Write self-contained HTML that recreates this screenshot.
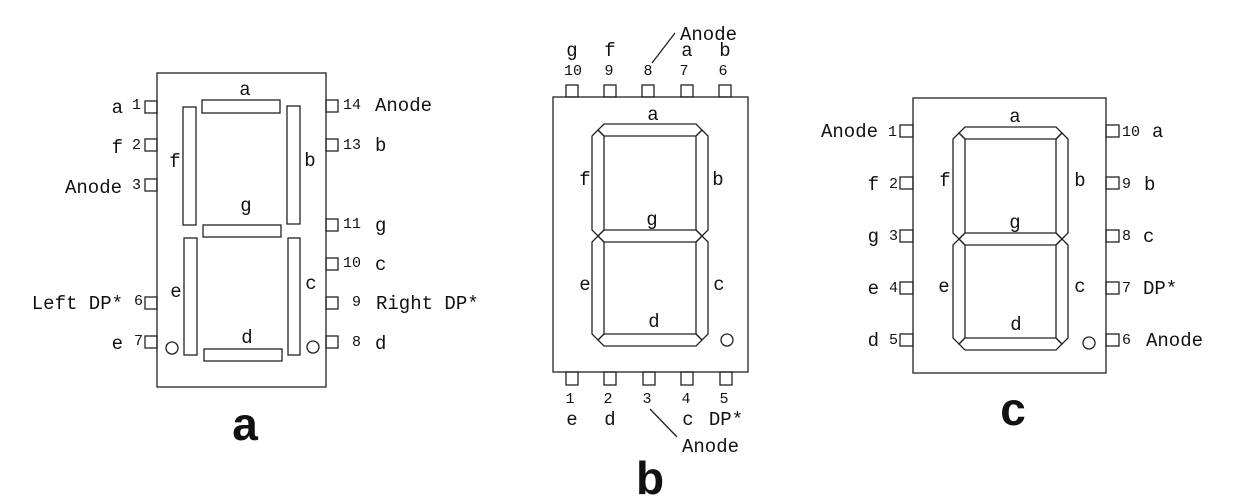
<!DOCTYPE html>
<html><head><meta charset="utf-8"><style>
html,body{margin:0;padding:0;background:#fff;}
svg{display:block;}
text{font-family:"Liberation Mono",monospace;fill:#111;}
.l{font-size:19px;}
.n{font-size:15px;}
.big{font-family:"Liberation Sans",sans-serif;font-weight:bold;font-size:46px;}
</style></head><body>
<svg width="1246" height="499" viewBox="0 0 1246 499" xmlns="http://www.w3.org/2000/svg">
<g fill="none" stroke="#222" stroke-width="1.3">
<!-- Diagram a -->
<rect x="157" y="73" width="169" height="314"/>
<rect x="145" y="101" width="12" height="12"/>
<rect x="145" y="139" width="12" height="12"/>
<rect x="145" y="179" width="12" height="12"/>
<rect x="145" y="297" width="12" height="12"/>
<rect x="145" y="336" width="12" height="12"/>
<rect x="326" y="100" width="12" height="12"/>
<rect x="326" y="139" width="12" height="12"/>
<rect x="326" y="219" width="12" height="12"/>
<rect x="326" y="258" width="12" height="12"/>
<rect x="326" y="297" width="12" height="12"/>
<rect x="326" y="336" width="12" height="12"/>
<rect x="202" y="100" width="78" height="13"/>
<rect x="183" y="107" width="13" height="118"/>
<rect x="287" y="106" width="13" height="118"/>
<rect x="203" y="225" width="78" height="12"/>
<rect x="184" y="238" width="13" height="117"/>
<rect x="288" y="238" width="12" height="117"/>
<rect x="204" y="349" width="78" height="12"/>
<circle cx="172" cy="348" r="6"/>
<circle cx="313" cy="347" r="6"/>
<!-- Diagram b -->
<rect x="553" y="97" width="195" height="275"/>
<rect x="566" y="85" width="12" height="12"/>
<rect x="604" y="85" width="12" height="12"/>
<rect x="642" y="85" width="12" height="12"/>
<rect x="681" y="85" width="12" height="12"/>
<rect x="719" y="85" width="12" height="12"/>
<rect x="566" y="372" width="12" height="13"/>
<rect x="604" y="372" width="12" height="13"/>
<rect x="643" y="372" width="12" height="13"/>
<rect x="681" y="372" width="12" height="13"/>
<rect x="720" y="372" width="12" height="13"/>
<polygon points="604,124 696,124 702,130 696,136 604,136 598,130"/>
<polygon points="598,236 604,230 696,230 702,236 696,242 604,242"/>
<polygon points="604,346 696,346 702,340 696,334 604,334 598,340"/>
<polygon points="598,130 604,136 604,230 598,236 592,230 592,136"/>
<polygon points="598,236 604,242 604,334 598,340 592,334 592,242"/>
<polygon points="702,130 708,136 708,230 702,236 696,230 696,136"/>
<polygon points="702,236 708,242 708,334 702,340 696,334 696,242"/>
<circle cx="727" cy="340" r="6"/>
<line x1="652" y1="63" x2="675" y2="33"/>
<line x1="650" y1="409" x2="677" y2="437"/>
<!-- Diagram c -->
<rect x="913" y="98" width="193" height="275"/>
<rect x="900" y="125" width="13" height="12"/>
<rect x="900" y="177" width="13" height="12"/>
<rect x="900" y="230" width="13" height="12"/>
<rect x="900" y="282" width="13" height="12"/>
<rect x="900" y="334" width="13" height="12"/>
<rect x="1106" y="125" width="13" height="12"/>
<rect x="1106" y="177" width="13" height="12"/>
<rect x="1106" y="230" width="13" height="12"/>
<rect x="1106" y="282" width="13" height="12"/>
<rect x="1106" y="334" width="13" height="12"/>
<polygon points="965,127 1056,127 1062,133 1056,139 965,139 959,133"/>
<polygon points="959,239 965,233 1056,233 1062,239 1056,245 965,245"/>
<polygon points="965,350 1056,350 1062,344 1056,338 965,338 959,344"/>
<polygon points="959,133 965,139 965,233 959,239 953,233 953,139"/>
<polygon points="959,239 965,245 965,338 959,344 953,338 953,245"/>
<polygon points="1062,133 1068,139 1068,233 1062,239 1056,233 1056,139"/>
<polygon points="1062,239 1068,245 1068,338 1062,344 1056,338 1056,245"/>
<circle cx="1089" cy="343" r="6"/>
</g>

<!-- Diagram a text -->
<g class="l" text-anchor="end">
<text x="123" y="113">a</text>
<text x="123" y="153">f</text>
<text x="122" y="193">Anode</text>
<text x="123" y="309">Left DP*</text>
<text x="123" y="349">e</text>
</g>
<g class="n" text-anchor="end">
<text x="141" y="109">1</text>
<text x="141" y="149">2</text>
<text x="141" y="189">3</text>
<text x="143" y="305">6</text>
<text x="143" y="345">7</text>
</g>
<g class="n">
<text x="343" y="109">14</text>
<text x="343" y="149">13</text>
<text x="343" y="228">11</text>
<text x="343" y="267">10</text>
<text x="352" y="306">9</text>
<text x="352" y="346">8</text>
</g>
<g class="l">
<text x="375" y="111">Anode</text>
<text x="375" y="151">b</text>
<text x="375" y="231">g</text>
<text x="375" y="270">c</text>
<text x="376" y="309">Right DP*</text>
<text x="375" y="349">d</text>
</g>
<g class="l" text-anchor="middle">
<text x="245" y="95">a</text>
<text x="175" y="167">f</text>
<text x="310" y="166">b</text>
<text x="246" y="211">g</text>
<text x="176" y="297">e</text>
<text x="311" y="289">c</text>
<text x="247" y="343">d</text>
</g>
<text class="big" x="245" y="440" text-anchor="middle">a</text>

<!-- Diagram b text -->
<g class="l" text-anchor="middle">
<text x="572" y="56">g</text>
<text x="610" y="56">f</text>
<text x="687" y="56">a</text>
<text x="725" y="56">b</text>
<text x="572" y="425">e</text>
<text x="610" y="425">d</text>
<text x="688" y="425">c</text>
<text x="726" y="425">DP*</text>
<text x="653" y="120">a</text>
<text x="585" y="185">f</text>
<text x="718" y="185">b</text>
<text x="652" y="225">g</text>
<text x="585" y="290">e</text>
<text x="719" y="290">c</text>
<text x="654" y="327">d</text>
</g>
<g class="n" text-anchor="middle">
<text x="573" y="75">10</text>
<text x="609" y="75">9</text>
<text x="648" y="75">8</text>
<text x="684" y="75">7</text>
<text x="723" y="75">6</text>
<text x="570" y="403">1</text>
<text x="608" y="403">2</text>
<text x="647" y="403">3</text>
<text x="686" y="403">4</text>
<text x="724" y="403">5</text>
</g>
<g class="l">
<text x="680" y="40">Anode</text>
<text x="682" y="452">Anode</text>
</g>
<text class="big" x="650" y="494" text-anchor="middle">b</text>

<!-- Diagram c text -->
<g class="l" text-anchor="end">
<text x="878" y="137">Anode</text>
<text x="879" y="190">f</text>
<text x="879" y="242">g</text>
<text x="879" y="294">e</text>
<text x="879" y="346">d</text>
</g>
<g class="n" text-anchor="end">
<text x="897" y="136">1</text>
<text x="898" y="188">2</text>
<text x="898" y="240">3</text>
<text x="898" y="292">4</text>
<text x="898" y="344">5</text>
</g>
<g class="n">
<text x="1122" y="136">10</text>
<text x="1122" y="188">9</text>
<text x="1122" y="240">8</text>
<text x="1122" y="292">7</text>
<text x="1122" y="344">6</text>
</g>
<g class="l">
<text x="1152" y="137">a</text>
<text x="1144" y="190">b</text>
<text x="1143" y="242">c</text>
<text x="1143" y="294">DP*</text>
<text x="1146" y="346">Anode</text>
</g>
<g class="l" text-anchor="middle">
<text x="1015" y="122">a</text>
<text x="945" y="186">f</text>
<text x="1080" y="186">b</text>
<text x="1015" y="228">g</text>
<text x="944" y="292">e</text>
<text x="1080" y="292">c</text>
<text x="1016" y="330">d</text>
</g>
<text class="big" x="1013" y="425" text-anchor="middle">c</text>
</svg>
</body></html>
